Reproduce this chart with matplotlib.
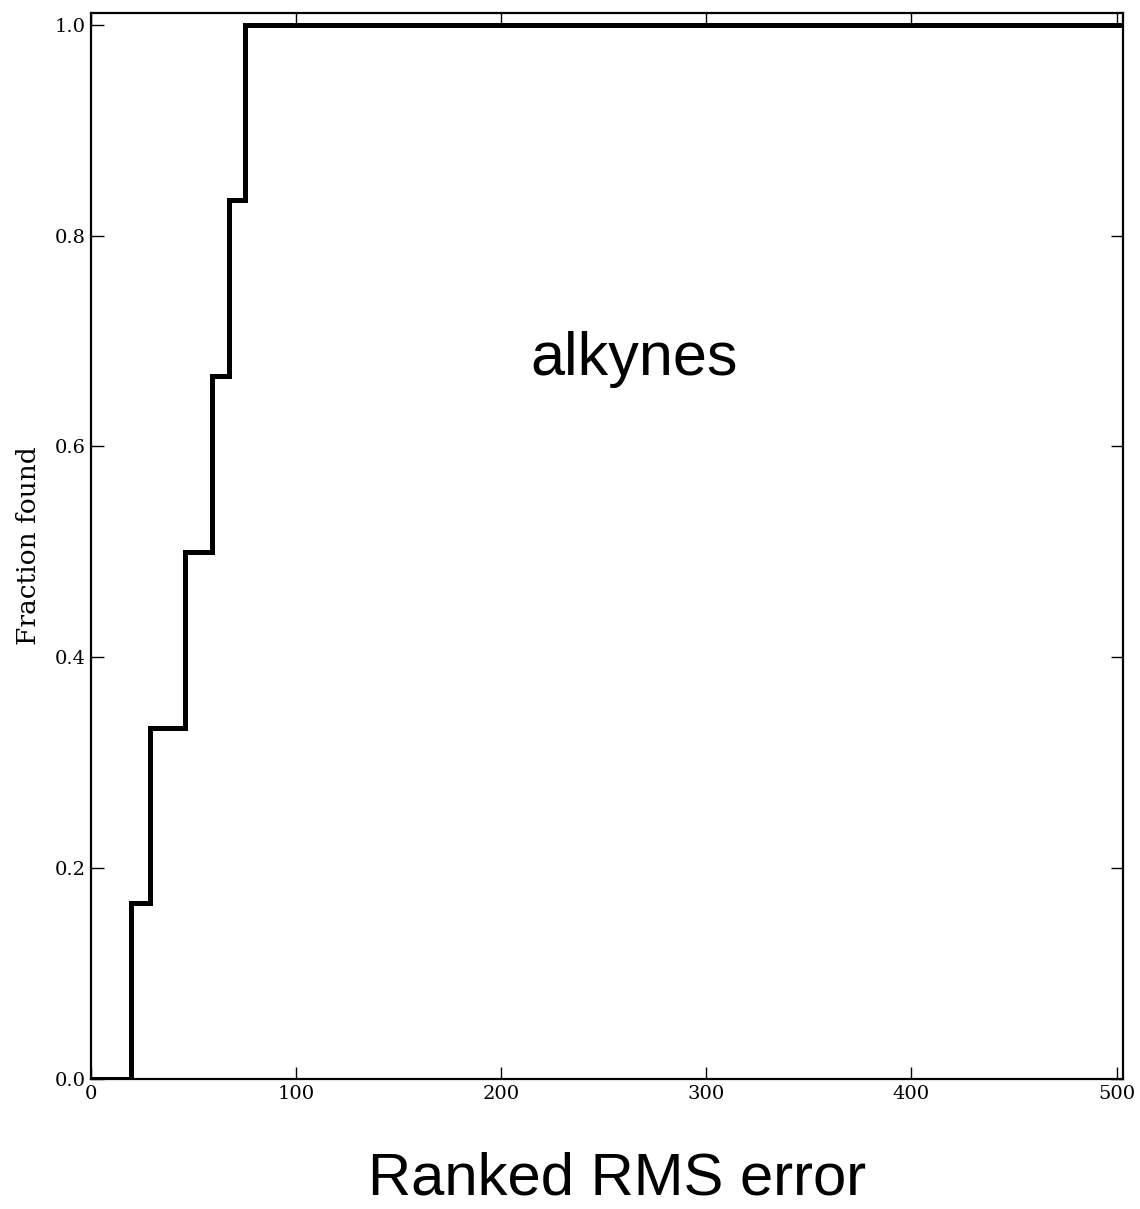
import matplotlib
matplotlib.use("Agg")
import matplotlib.pyplot as plt

# Ranks at which each of the six alkynes is found, and cumulative fraction
ranks = [0, 19.5, 29, 46, 59, 67.5, 75, 503]
fraction = [0.0, 1/6, 2/6, 3/6, 4/6, 5/6, 1.0, 1.0]
x_ticks = [0, 100, 200, 300, 400, 500]
y_ticks = [0.0, 0.2, 0.4, 0.6, 0.8, 1.0]

fig = plt.figure(figsize=(11.4, 12.09), dpi=100)
ax = fig.add_axes([0.0798, 0.1075, 0.9050, 0.8817])

ax.step(ranks, fraction, where="post", color="black", linewidth=3.6, solid_joinstyle="miter")

ax.set_xlim(0, 503)
ax.set_ylim(0, 1.011)
ax.set_xticks(x_ticks)
ax.set_yticks(y_ticks)
ax.set_xticklabels([str(t) for t in x_ticks], family="DejaVu Serif", fontsize=14)
ax.set_yticklabels([f"{t:.1f}" for t in y_ticks], family="DejaVu Serif", fontsize=14)
ax.tick_params(direction="in", length=9, width=1, top=True, right=True, pad=4)
for s in ax.spines.values():
    s.set_linewidth(1.6)

ax.set_ylabel("Fraction found", family="DejaVu Serif", fontsize=19, labelpad=10)
ax.text(0.526, 0.660, "alkynes", transform=ax.transAxes, ha="center", va="baseline",
        family="Liberation Sans", fontsize=44)
fig.text(0.541, 0.012, "Ranked RMS error", ha="center", va="baseline",
         family="Liberation Sans", fontsize=43)

fig.savefig("out.png", dpi=100)
